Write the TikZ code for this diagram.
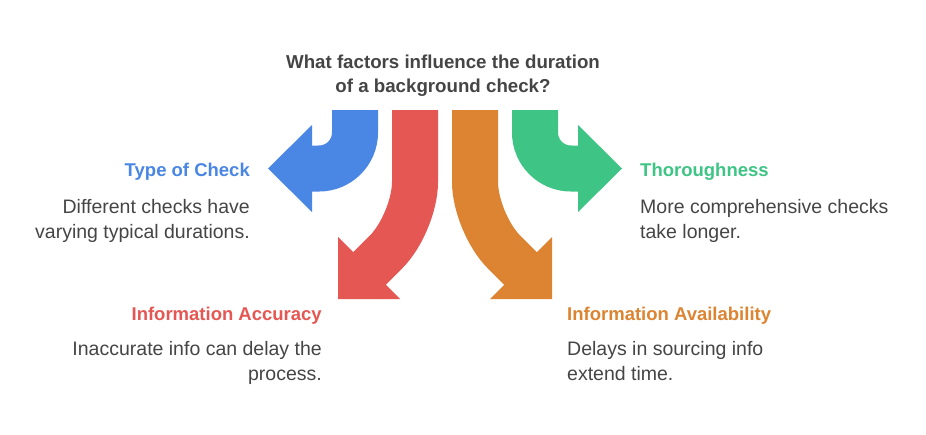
\documentclass[tikz,border=0pt]{standalone}
\usepackage{fontspec}
\setmainfont{Liberation Sans}
\definecolor{cblue}{HTML}{4A86E4}
\definecolor{cred}{HTML}{E55753}
\definecolor{corange}{HTML}{DC8431}
\definecolor{cgreen}{HTML}{3EC585}
\definecolor{ctext}{HTML}{454545}
\begin{document}
\begin{tikzpicture}[x=1pt,y=-1pt,
  band/.style={line width=46pt, rounded corners=#1},
  titletext/.style={inner sep=0pt, anchor=base, align=center, text=ctext,
    font=\fontsize{18.7}{24}\selectfont\bfseries},
  headL/.style={inner sep=0pt, anchor=base east, font=\fontsize{18.5}{24}\selectfont\bfseries},
  headR/.style={inner sep=0pt, anchor=base west, font=\fontsize{18.5}{24}\selectfont\bfseries},
  bodyL/.style={inner sep=0pt, anchor=base east, align=right, text=ctext,
    font=\fontsize{19.5}{24.5}\selectfont},
  bodyR/.style={inner sep=0pt, anchor=base west, align=left, text=ctext,
    font=\fontsize{19.5}{24.5}\selectfont}]
\useasboundingbox (0,0) rectangle (926,434);
\fill[white] (0,0) rectangle (926,434);

% blue arrow
\draw[cblue, band=36pt] (355,110) -- (355,168.5) -- (305,168.5);
\fill[cblue] (312,125) -- (268,168.5) -- (312,212) -- cycle;
% green arrow
\draw[cgreen, band=36pt] (535,110) -- (535,168.5) -- (585,168.5);
\fill[cgreen] (578,125) -- (622,168.5) -- (578,212) -- cycle;
% red arrow
\draw[cred, band=41pt] (415,110) -- (415,223) -- (360,278);
\fill[cred] (338,237) -- (338,299) -- (400,299) -- cycle;
% orange arrow
\draw[corange, band=41pt] (475,110) -- (475,223) -- (530,278);
\fill[corange] (552,237) -- (552,299) -- (490,299) -- cycle;

\node[titletext] (title) at (443,92.3) {What factors influence the duration\\of a background check?};

\node[headL, text=cblue] (h1) at (250,176) {Type of Check};
\node[bodyL] (b1) at (250,238) {Different checks have\\varying typical durations.};

\node[headR, text=cgreen] (h2) at (640,176) {Thoroughness};
\node[bodyR] (b2) at (640,238) {More comprehensive checks\\take longer.};

\node[headL, text=cred] (h3) at (322,320) {Information Accuracy};
\node[bodyL] (b3) at (322,380.2) {Inaccurate info can delay the\\process.};

\node[headR, text=corange] (h4) at (567,320) {Information Availability};
\node[bodyR] (b4) at (567,380.2) {Delays in sourcing info\\extend time.};
\end{tikzpicture}
\end{document}
